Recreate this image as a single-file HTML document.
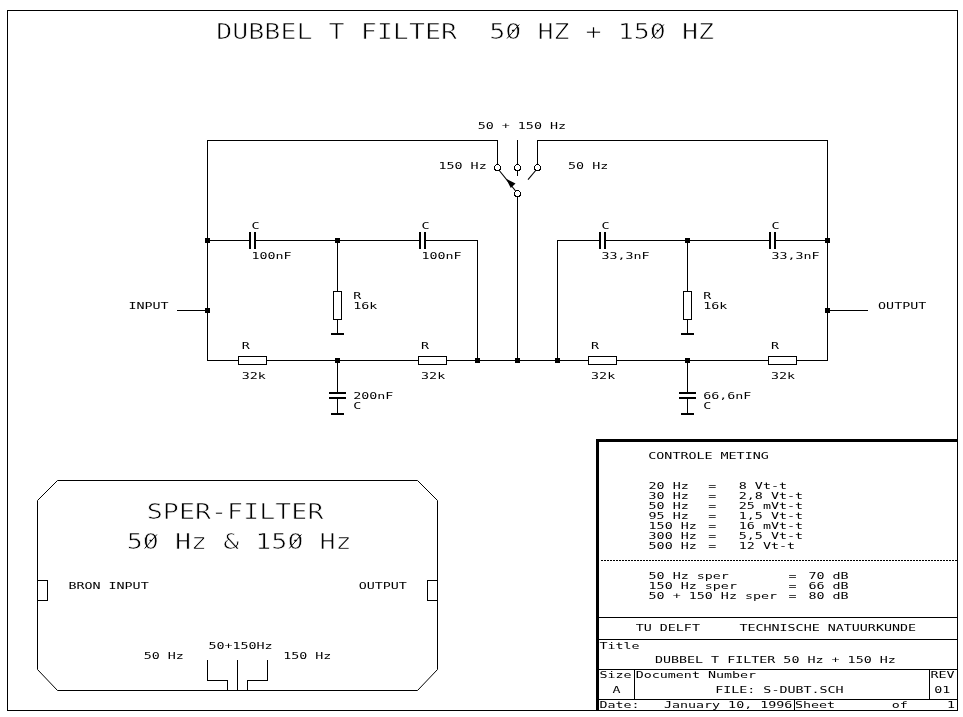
<!DOCTYPE html>
<html lang="nl">
<head>
<meta charset="utf-8">
<title>DUBBEL T FILTER 50 HZ + 150 HZ</title>
<style>
html,body{margin:0;padding:0;background:#fff;}
body{width:963px;height:717px;overflow:hidden;}
svg{display:block;}
text{font-family:"DejaVu Sans Mono","Liberation Mono",monospace;fill:#000;white-space:pre;}
text.s{font-size:9.3px;}
text.b{font-size:21.8px;stroke:#fff;stroke-width:0.65px;}
</style>
</head>
<body>
<svg width="963" height="717" viewBox="0 0 963 717">
<rect x="0" y="0" width="963" height="717" fill="#fff" stroke="none"/>
<g class="g" fill="none" stroke="#000" shape-rendering="crispEdges">
<rect x="7.5" y="10.5" width="950" height="700" fill="none" stroke-width="1"/>
<polyline points="497.5,164 497.5,140.5 207.5,140.5 207.5,360.5 827.5,360.5 827.5,140.5 537.5,140.5 537.5,164" fill="none" stroke-width="1" />
<line x1="517.5" y1="140" x2="517.5" y2="176" stroke-width="1" />
<line x1="517.5" y1="196" x2="517.5" y2="360.5" stroke-width="1" />
<polyline points="207.5,240.5 477.5,240.5 477.5,360.5" fill="none" stroke-width="1" />
<polyline points="557.5,360.5 557.5,240.5 827.5,240.5" fill="none" stroke-width="1" />
<line x1="177" y1="310.5" x2="207.5" y2="310.5" stroke-width="1" />
<line x1="827.5" y1="310.5" x2="867.5" y2="310.5" stroke-width="1" />
<line x1="498.5" y1="169.5" x2="516" y2="191.5" stroke-width="1.1" shape-rendering="geometricPrecision"/>
<line x1="536.5" y1="169.5" x2="528" y2="179.7" stroke-width="1.1" shape-rendering="geometricPrecision"/>
<polygon points="506.2,178.8 515.5,183.5 510.8,188" fill="#000" stroke="none" shape-rendering="geometricPrecision"/>
<circle cx="497.5" cy="167.5" r="3" fill="#fff" stroke-width="1"/>
<circle cx="517.5" cy="167.5" r="3" fill="#fff" stroke-width="1"/>
<circle cx="537.5" cy="167.5" r="3" fill="#fff" stroke-width="1"/>
<circle cx="517.5" cy="193.5" r="3" fill="#fff" stroke-width="1"/>
<rect x="250.0" y="233" width="5" height="15" fill="#fff" stroke="none"/>
<rect x="249.0" y="232" width="2" height="17" fill="#000" stroke="none"/>
<rect x="254.0" y="232" width="2" height="17" fill="#000" stroke="none"/>
<rect x="420.0" y="233" width="5" height="15" fill="#fff" stroke="none"/>
<rect x="419.0" y="232" width="2" height="17" fill="#000" stroke="none"/>
<rect x="424.0" y="232" width="2" height="17" fill="#000" stroke="none"/>
<rect x="600.0" y="233" width="5" height="15" fill="#fff" stroke="none"/>
<rect x="599.0" y="232" width="2" height="17" fill="#000" stroke="none"/>
<rect x="604.0" y="232" width="2" height="17" fill="#000" stroke="none"/>
<rect x="770.0" y="233" width="5" height="15" fill="#fff" stroke="none"/>
<rect x="769.0" y="232" width="2" height="17" fill="#000" stroke="none"/>
<rect x="774.0" y="232" width="2" height="17" fill="#000" stroke="none"/>
<rect x="238.5" y="356.5" width="28" height="8" fill="#fff" stroke-width="1"/>
<rect x="418.5" y="356.5" width="28" height="8" fill="#fff" stroke-width="1"/>
<rect x="588.5" y="356.5" width="28" height="8" fill="#fff" stroke-width="1"/>
<rect x="768.5" y="356.5" width="28" height="8" fill="#fff" stroke-width="1"/>
<line x1="337.5" y1="240.5" x2="337.5" y2="334" stroke-width="1" />
<rect x="333.5" y="291.5" width="8" height="28" fill="#fff" stroke-width="1"/>
<rect x="331.0" y="333" width="13" height="2" fill="#000" stroke="none"/>
<line x1="337.5" y1="360.5" x2="337.5" y2="413" stroke-width="1" />
<rect x="333.5" y="393" width="8" height="5" fill="#fff" stroke="none"/>
<rect x="329.0" y="392" width="17" height="2" fill="#000" stroke="none"/>
<rect x="329.0" y="397" width="17" height="2" fill="#000" stroke="none"/>
<rect x="331.0" y="413" width="13" height="2" fill="#000" stroke="none"/>
<line x1="687.5" y1="240.5" x2="687.5" y2="334" stroke-width="1" />
<rect x="683.5" y="291.5" width="8" height="28" fill="#fff" stroke-width="1"/>
<rect x="681.0" y="333" width="13" height="2" fill="#000" stroke="none"/>
<line x1="687.5" y1="360.5" x2="687.5" y2="413" stroke-width="1" />
<rect x="683.5" y="393" width="8" height="5" fill="#fff" stroke="none"/>
<rect x="679.0" y="392" width="17" height="2" fill="#000" stroke="none"/>
<rect x="679.0" y="397" width="17" height="2" fill="#000" stroke="none"/>
<rect x="681.0" y="413" width="13" height="2" fill="#000" stroke="none"/>
<rect x="205.0" y="238.0" width="5" height="5" fill="#000" stroke="none"/>
<rect x="205.0" y="308.0" width="5" height="5" fill="#000" stroke="none"/>
<rect x="335.0" y="238.0" width="5" height="5" fill="#000" stroke="none"/>
<rect x="335.0" y="358.0" width="5" height="5" fill="#000" stroke="none"/>
<rect x="475.0" y="358.0" width="5" height="5" fill="#000" stroke="none"/>
<rect x="515.0" y="358.0" width="5" height="5" fill="#000" stroke="none"/>
<rect x="555.0" y="358.0" width="5" height="5" fill="#000" stroke="none"/>
<rect x="685.0" y="238.0" width="5" height="5" fill="#000" stroke="none"/>
<rect x="685.0" y="358.0" width="5" height="5" fill="#000" stroke="none"/>
<rect x="825.0" y="238.0" width="5" height="5" fill="#000" stroke="none"/>
<rect x="825.0" y="308.0" width="5" height="5" fill="#000" stroke="none"/>
<polygon points="57.5,480.5 417.5,480.5 437.5,500.5 437.5,669.5 417.5,690.5 57.5,690.5 37.5,669.5 37.5,500.5" fill="none" stroke-width="1" shape-rendering="geometricPrecision"/>
<rect x="37.5" y="580.5" width="10" height="20" fill="none" stroke-width="1"/>
<rect x="427.5" y="580.5" width="10" height="20" fill="none" stroke-width="1"/>
<polyline points="207.5,660 207.5,680.5 227.5,680.5 227.5,690" fill="none" stroke-width="1" />
<line x1="237.5" y1="660" x2="237.5" y2="690" stroke-width="1" />
<polyline points="267.5,660 267.5,680.5 247.5,680.5 247.5,690" fill="none" stroke-width="1" />
<rect x="595.5" y="439" width="362.5" height="3" fill="#000" stroke="none"/>
<rect x="596" y="439" width="3" height="272" fill="#000" stroke="none"/>
<line x1="601" y1="560.5" x2="957" y2="560.5" stroke-width="1" stroke-dasharray="2 1"/>
<line x1="599" y1="617.5" x2="957.5" y2="617.5" stroke-width="1" />
<line x1="599" y1="639.5" x2="957.5" y2="639.5" stroke-width="1" />
<line x1="599" y1="669.5" x2="957.5" y2="669.5" stroke-width="1" />
<line x1="599" y1="699.5" x2="957.5" y2="699.5" stroke-width="1" />
<line x1="634.5" y1="669.5" x2="634.5" y2="699.5" stroke-width="1" />
<line x1="929.5" y1="669.5" x2="929.5" y2="699.5" stroke-width="1" />
<line x1="794.5" y1="699.5" x2="794.5" y2="710.5" stroke-width="1" />
</g>
<g class="t" style="filter:grayscale(1)">
<text class="b" x="216.2" y="39" textLength="240.9" lengthAdjust="spacingAndGlyphs">DUBBEL T FILTER</text>
<text class="b" x="489.22" y="39" textLength="224.84" lengthAdjust="spacingAndGlyphs">50 HZ + 150 HZ</text>
<text class="s" x="477.7" y="129" textLength="88.33" lengthAdjust="spacingAndGlyphs">50 + 150 Hz</text>
<text class="s" x="438.5" y="169" textLength="48.18" lengthAdjust="spacingAndGlyphs">150 Hz</text>
<text class="s" x="568.1" y="169" textLength="40.15" lengthAdjust="spacingAndGlyphs">50 Hz</text>
<text class="s" x="251.4" y="229" textLength="8.03" lengthAdjust="spacingAndGlyphs">C</text>
<text class="s" x="251.4" y="259" textLength="40.15" lengthAdjust="spacingAndGlyphs">100nF</text>
<text class="s" x="421.4" y="229" textLength="8.03" lengthAdjust="spacingAndGlyphs">C</text>
<text class="s" x="421.4" y="259" textLength="40.15" lengthAdjust="spacingAndGlyphs">100nF</text>
<text class="s" x="601.4" y="229" textLength="8.03" lengthAdjust="spacingAndGlyphs">C</text>
<text class="s" x="601.4" y="259" textLength="48.18" lengthAdjust="spacingAndGlyphs">33,3nF</text>
<text class="s" x="771.4" y="229" textLength="8.03" lengthAdjust="spacingAndGlyphs">C</text>
<text class="s" x="771.4" y="259" textLength="48.18" lengthAdjust="spacingAndGlyphs">33,3nF</text>
<text class="s" x="241.7" y="349" textLength="8.03" lengthAdjust="spacingAndGlyphs">R</text>
<text class="s" x="241.7" y="379" textLength="24.09" lengthAdjust="spacingAndGlyphs">32k</text>
<text class="s" x="421.1" y="349" textLength="8.03" lengthAdjust="spacingAndGlyphs">R</text>
<text class="s" x="421.1" y="379" textLength="24.09" lengthAdjust="spacingAndGlyphs">32k</text>
<text class="s" x="591.1" y="349" textLength="8.03" lengthAdjust="spacingAndGlyphs">R</text>
<text class="s" x="591.1" y="379" textLength="24.09" lengthAdjust="spacingAndGlyphs">32k</text>
<text class="s" x="770.9" y="349" textLength="8.03" lengthAdjust="spacingAndGlyphs">R</text>
<text class="s" x="770.9" y="379" textLength="24.09" lengthAdjust="spacingAndGlyphs">32k</text>
<text class="s" x="353.2" y="299" textLength="8.03" lengthAdjust="spacingAndGlyphs">R</text>
<text class="s" x="353.2" y="309" textLength="24.09" lengthAdjust="spacingAndGlyphs">16k</text>
<text class="s" x="353.2" y="399" textLength="40.15" lengthAdjust="spacingAndGlyphs">200nF</text>
<text class="s" x="353.2" y="409" textLength="8.03" lengthAdjust="spacingAndGlyphs">C</text>
<text class="s" x="703.2" y="299" textLength="8.03" lengthAdjust="spacingAndGlyphs">R</text>
<text class="s" x="703.2" y="309" textLength="24.09" lengthAdjust="spacingAndGlyphs">16k</text>
<text class="s" x="703.2" y="399" textLength="48.18" lengthAdjust="spacingAndGlyphs">66,6nF</text>
<text class="s" x="703.2" y="409" textLength="8.03" lengthAdjust="spacingAndGlyphs">C</text>
<text class="s" x="128.4" y="309" textLength="40.15" lengthAdjust="spacingAndGlyphs">INPUT</text>
<text class="s" x="878.1" y="309" textLength="48.18" lengthAdjust="spacingAndGlyphs">OUTPUT</text>
<text class="b" x="146.8" y="519" textLength="176.66" lengthAdjust="spacingAndGlyphs">SPER-FILTER</text>
<text class="b" x="126.8" y="549" textLength="224.84" lengthAdjust="spacingAndGlyphs">50 Hz &amp; 150 Hz</text>
<text class="s" x="68.4" y="589" textLength="80.3" lengthAdjust="spacingAndGlyphs">BRON INPUT</text>
<text class="s" x="358.7" y="589" textLength="48.18" lengthAdjust="spacingAndGlyphs">OUTPUT</text>
<text class="s" x="143.7" y="659" textLength="40.15" lengthAdjust="spacingAndGlyphs">50 Hz</text>
<text class="s" x="208.4" y="649" textLength="64.24" lengthAdjust="spacingAndGlyphs">50+150Hz</text>
<text class="s" x="283.2" y="659" textLength="48.18" lengthAdjust="spacingAndGlyphs">150 Hz</text>
<text class="s" x="648.3" y="459" textLength="120.45" lengthAdjust="spacingAndGlyphs">CONTROLE METING</text>
<text class="s" x="648.6" y="489" textLength="40.15" lengthAdjust="spacingAndGlyphs">20 Hz</text>
<text class="s" x="708.3" y="489" textLength="8.03" lengthAdjust="spacingAndGlyphs">=</text>
<text class="s" x="738.8" y="489" textLength="48.18" lengthAdjust="spacingAndGlyphs">8 Vt-t</text>
<text class="s" x="648.6" y="499" textLength="40.15" lengthAdjust="spacingAndGlyphs">30 Hz</text>
<text class="s" x="708.3" y="499" textLength="8.03" lengthAdjust="spacingAndGlyphs">=</text>
<text class="s" x="738.8" y="499" textLength="64.24" lengthAdjust="spacingAndGlyphs">2,8 Vt-t</text>
<text class="s" x="648.6" y="509" textLength="40.15" lengthAdjust="spacingAndGlyphs">50 Hz</text>
<text class="s" x="708.3" y="509" textLength="8.03" lengthAdjust="spacingAndGlyphs">=</text>
<text class="s" x="738.8" y="509" textLength="64.24" lengthAdjust="spacingAndGlyphs">25 mVt-t</text>
<text class="s" x="648.6" y="519" textLength="40.15" lengthAdjust="spacingAndGlyphs">95 Hz</text>
<text class="s" x="708.3" y="519" textLength="8.03" lengthAdjust="spacingAndGlyphs">=</text>
<text class="s" x="738.8" y="519" textLength="64.24" lengthAdjust="spacingAndGlyphs">1,5 Vt-t</text>
<text class="s" x="648.6" y="529" textLength="48.18" lengthAdjust="spacingAndGlyphs">150 Hz</text>
<text class="s" x="708.3" y="529" textLength="8.03" lengthAdjust="spacingAndGlyphs">=</text>
<text class="s" x="738.8" y="529" textLength="64.24" lengthAdjust="spacingAndGlyphs">16 mVt-t</text>
<text class="s" x="648.6" y="539" textLength="48.18" lengthAdjust="spacingAndGlyphs">300 Hz</text>
<text class="s" x="708.3" y="539" textLength="8.03" lengthAdjust="spacingAndGlyphs">=</text>
<text class="s" x="738.8" y="539" textLength="64.24" lengthAdjust="spacingAndGlyphs">5,5 Vt-t</text>
<text class="s" x="648.6" y="549" textLength="48.18" lengthAdjust="spacingAndGlyphs">500 Hz</text>
<text class="s" x="708.3" y="549" textLength="8.03" lengthAdjust="spacingAndGlyphs">=</text>
<text class="s" x="738.8" y="549" textLength="56.21" lengthAdjust="spacingAndGlyphs">12 Vt-t</text>
<text class="s" x="648.6" y="579" textLength="80.3" lengthAdjust="spacingAndGlyphs">50 Hz sper</text>
<text class="s" x="788.6" y="579" textLength="8.03" lengthAdjust="spacingAndGlyphs">=</text>
<text class="s" x="808.5" y="579" textLength="40.15" lengthAdjust="spacingAndGlyphs">70 dB</text>
<text class="s" x="648.6" y="589" textLength="88.33" lengthAdjust="spacingAndGlyphs">150 Hz sper</text>
<text class="s" x="788.6" y="589" textLength="8.03" lengthAdjust="spacingAndGlyphs">=</text>
<text class="s" x="808.5" y="589" textLength="40.15" lengthAdjust="spacingAndGlyphs">66 dB</text>
<text class="s" x="648.6" y="599" textLength="128.48" lengthAdjust="spacingAndGlyphs">50 + 150 Hz sper</text>
<text class="s" x="788.6" y="599" textLength="8.03" lengthAdjust="spacingAndGlyphs">=</text>
<text class="s" x="808.5" y="599" textLength="40.15" lengthAdjust="spacingAndGlyphs">80 dB</text>
<text class="s" x="635.7" y="631" textLength="64.24" lengthAdjust="spacingAndGlyphs">TU DELFT</text>
<text class="s" x="739.4" y="631" textLength="176.66" lengthAdjust="spacingAndGlyphs">TECHNISCHE NATUURKUNDE</text>
<text class="s" x="599.4" y="649" textLength="40.15" lengthAdjust="spacingAndGlyphs">Title</text>
<text class="s" x="654.9" y="663" textLength="240.9" lengthAdjust="spacingAndGlyphs">DUBBEL T FILTER 50 Hz + 150 Hz</text>
<text class="s" x="599.4" y="678" textLength="32.12" lengthAdjust="spacingAndGlyphs">Size</text>
<text class="s" x="635.7" y="678" textLength="120.45" lengthAdjust="spacingAndGlyphs">Document Number</text>
<text class="s" x="930.4" y="678" textLength="24.09" lengthAdjust="spacingAndGlyphs">REV</text>
<text class="s" x="612.4" y="693" textLength="8.03" lengthAdjust="spacingAndGlyphs">A</text>
<text class="s" x="715.2" y="693" textLength="128.48" lengthAdjust="spacingAndGlyphs">FILE: S-DUBT.SCH</text>
<text class="s" x="934.2" y="693" textLength="16.06" lengthAdjust="spacingAndGlyphs">01</text>
<text class="s" x="599.4" y="708" textLength="40.15" lengthAdjust="spacingAndGlyphs">Date:</text>
<text class="s" x="663.9" y="708" textLength="128.48" lengthAdjust="spacingAndGlyphs">January 10, 1996</text>
<text class="s" x="794.9" y="708" textLength="40.15" lengthAdjust="spacingAndGlyphs">Sheet</text>
<text class="s" x="891.7" y="708" textLength="16.06" lengthAdjust="spacingAndGlyphs">of</text>
<text class="s" x="947.1" y="708" textLength="8.03" lengthAdjust="spacingAndGlyphs">1</text>
</g>
<g fill="none" stroke="#000">
<line x1="507.06" y1="38.5" x2="519.26" y2="24.5" stroke-width="0.9" />
<line x1="651.6" y1="38.5" x2="663.8" y2="24.5" stroke-width="0.9" />
<line x1="144.66" y1="548.5" x2="156.86" y2="534.5" stroke-width="0.9" />
<line x1="289.2" y1="548.5" x2="301.4" y2="534.5" stroke-width="0.9" />
</g>
</svg>
</body>
</html>
